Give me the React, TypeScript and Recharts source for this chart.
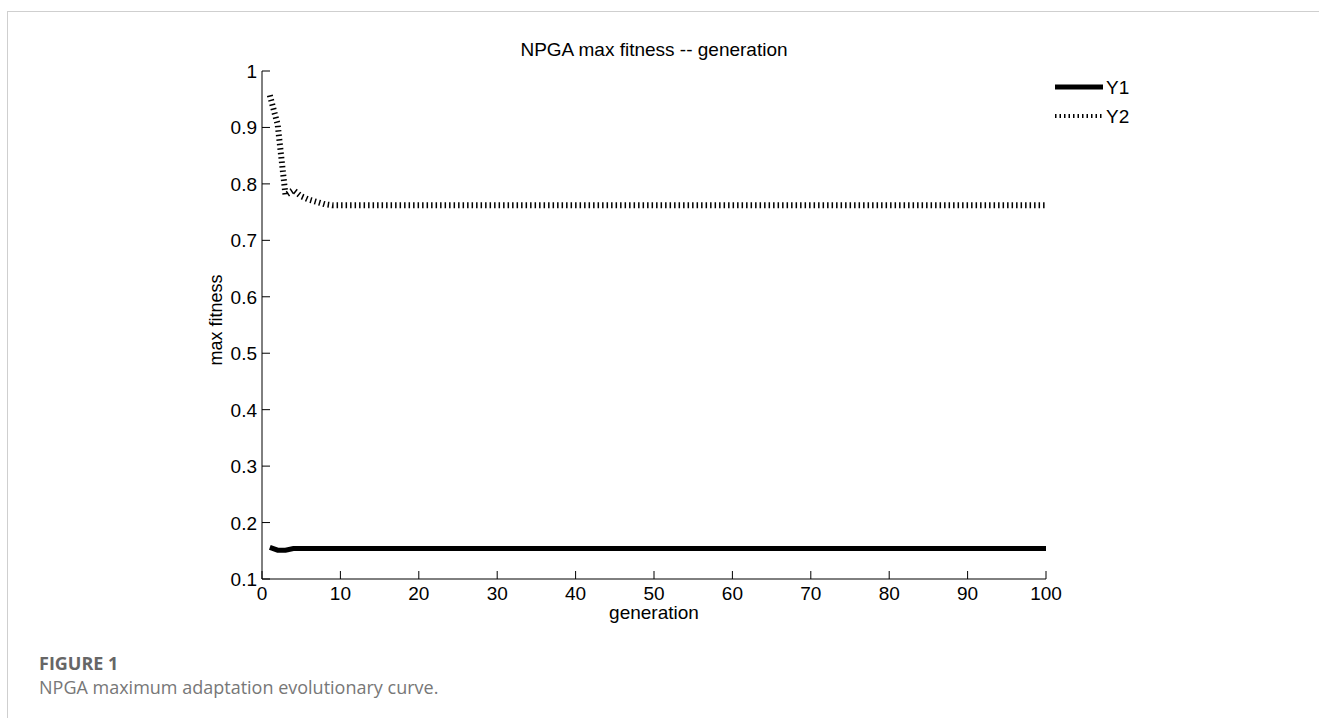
import { LineChart, Line, XAxis, YAxis } from "recharts"

// generation 1..100
const generations = [
  1, 2, 3, 4, 5, 6, 7, 8, 9, 10, 11, 12, 13, 14, 15, 16, 17, 18, 19, 20,
  21, 22, 23, 24, 25, 26, 27, 28, 29, 30, 31, 32, 33, 34, 35, 36, 37, 38, 39, 40,
  41, 42, 43, 44, 45, 46, 47, 48, 49, 50, 51, 52, 53, 54, 55, 56, 57, 58, 59, 60,
  61, 62, 63, 64, 65, 66, 67, 68, 69, 70, 71, 72, 73, 74, 75, 76, 77, 78, 79, 80,
  81, 82, 83, 84, 85, 86, 87, 88, 89, 90, 91, 92, 93, 94, 95, 96, 97, 98, 99, 100,
]

const y1Values = [
  0.156, 0.151, 0.151, 0.154, 0.154, 0.154, 0.154, 0.154, 0.154, 0.154,
  0.154, 0.154, 0.154, 0.154, 0.154, 0.154, 0.154, 0.154, 0.154, 0.154,
  0.154, 0.154, 0.154, 0.154, 0.154, 0.154, 0.154, 0.154, 0.154, 0.154,
  0.154, 0.154, 0.154, 0.154, 0.154, 0.154, 0.154, 0.154, 0.154, 0.154,
  0.154, 0.154, 0.154, 0.154, 0.154, 0.154, 0.154, 0.154, 0.154, 0.154,
  0.154, 0.154, 0.154, 0.154, 0.154, 0.154, 0.154, 0.154, 0.154, 0.154,
  0.154, 0.154, 0.154, 0.154, 0.154, 0.154, 0.154, 0.154, 0.154, 0.154,
  0.154, 0.154, 0.154, 0.154, 0.154, 0.154, 0.154, 0.154, 0.154, 0.154,
  0.154, 0.154, 0.154, 0.154, 0.154, 0.154, 0.154, 0.154, 0.154, 0.154,
  0.154, 0.154, 0.154, 0.154, 0.154, 0.154, 0.154, 0.154, 0.154, 0.154,
]

const y2Values = [
  0.957, 0.905, 0.780, 0.789, 0.778, 0.772, 0.768, 0.764, 0.762, 0.762,
  0.762, 0.762, 0.762, 0.762, 0.762, 0.762, 0.762, 0.762, 0.762, 0.762,
  0.762, 0.762, 0.762, 0.762, 0.762, 0.762, 0.762, 0.762, 0.762, 0.762,
  0.762, 0.762, 0.762, 0.762, 0.762, 0.762, 0.762, 0.762, 0.762, 0.762,
  0.762, 0.762, 0.762, 0.762, 0.762, 0.762, 0.762, 0.762, 0.762, 0.762,
  0.762, 0.762, 0.762, 0.762, 0.762, 0.762, 0.762, 0.762, 0.762, 0.762,
  0.762, 0.762, 0.762, 0.762, 0.762, 0.762, 0.762, 0.762, 0.762, 0.762,
  0.762, 0.762, 0.762, 0.762, 0.762, 0.762, 0.762, 0.762, 0.762, 0.762,
  0.762, 0.762, 0.762, 0.762, 0.762, 0.762, 0.762, 0.762, 0.762, 0.762,
  0.762, 0.762, 0.762, 0.762, 0.762, 0.762, 0.762, 0.762, 0.762, 0.762,
]

const xTicks = [0, 10, 20, 30, 40, 50, 60, 70, 80, 90, 100]
const yTicks = [0.1, 0.2, 0.3, 0.4, 0.5, 0.6, 0.7, 0.8, 0.9, 1]
const seriesNames = ["Y1", "Y2"]

const data = generations.map((g, i) => ({ generation: g, Y1: y1Values[i], Y2: y2Values[i] }))

const FONT = "'Liberation Sans', Arial, sans-serif"
const Y2_DASH = "1.5 3"

function XTick({ x, y, payload }: any) {
  return (
    <g>
      <line x1={x} y1={y} x2={x} y2={y - 8} stroke="#000" strokeWidth={1} />
      <text x={x} y={y + 21} textAnchor="middle" fontSize={19} fontFamily={FONT} fill="#000">
        {payload.value}
      </text>
    </g>
  )
}

function YTick({ x, y, payload }: any) {
  return (
    <g>
      <line x1={x} y1={y} x2={x + 8} y2={y} stroke="#000" strokeWidth={1} />
      <text x={x - 5} y={y + 7} textAnchor="end" fontSize={19} fontFamily={FONT} fill="#000">
        {payload.value}
      </text>
    </g>
  )
}

export default function App() {
  return (
    <div style={{ position: "absolute", left: 0, top: 0, width: 1319, height: 718, background: "#fff", overflow: "hidden" }}>
      {/* page frame */}
      <div style={{ position: "absolute", left: 7, top: 11, right: 0, height: 1, background: "#cfcfcf" }} />
      <div style={{ position: "absolute", left: 7, top: 11, bottom: 0, width: 1, background: "#cfcfcf" }} />

      <div style={{ position: "absolute", left: 0, top: 0 }}>
        <LineChart width={1319} height={718} data={data} margin={{ top: 71, right: 273, bottom: 109, left: 202 }}>
          <XAxis
            dataKey="generation"
            type="number"
            domain={[0, 100]}
            ticks={xTicks}
            tickSize={0}
            tickMargin={0}
            tickLine={false}
            tick={<XTick />}
            height={30}
            axisLine={{ stroke: "#000" }}
            interval={0}
          />
          <YAxis
            type="number"
            domain={[0.1, 1]}
            ticks={yTicks}
            tickSize={0}
            tickMargin={0}
            tickLine={false}
            tick={<YTick />}
            width={60}
            axisLine={{ stroke: "#000" }}
            interval={0}
            allowDataOverflow
          />
          <Line
            dataKey="Y1"
            type="linear"
            stroke="#000"
            strokeWidth={5}
            dot={false}
            isAnimationActive={false}
          />
          <Line
            dataKey="Y2"
            type="linear"
            stroke="#000"
            strokeWidth={6}
            strokeDasharray={Y2_DASH}
            dot={false}
            isAnimationActive={false}
          />
        </LineChart>
      </div>

      {/* title */}
      <div style={{ position: "absolute", left: 262, width: 784, top: 39, textAlign: "center", fontFamily: FONT, fontSize: 19, color: "#000" }}>
        NPGA max fitness -- generation
      </div>

      {/* axis labels */}
      <div style={{ position: "absolute", left: 262, width: 784, top: 602, textAlign: "center", fontFamily: FONT, fontSize: 19, color: "#000" }}>
        generation
      </div>
      <div
        style={{
          position: "absolute",
          left: 216,
          top: 320,
          transform: "translate(-50%, -50%) rotate(-90deg)",
          whiteSpace: "nowrap",
          fontFamily: FONT,
          fontSize: 18,
          color: "#000",
        }}
      >
        max fitness
      </div>

      {/* legend */}
      <svg style={{ position: "absolute", left: 1050, top: 72 }} width={90} height={60}>
        {seriesNames.map((name, i) => (
          <g key={name}>
            <line
              x1={5}
              x2={53}
              y1={15 + i * 29}
              y2={15 + i * 29}
              stroke="#000"
              strokeWidth={i === 0 ? 5 : 4}
              strokeDasharray={i === 0 ? undefined : Y2_DASH}
            />
            <text x={56} y={22 + i * 29} fontSize={19} fontFamily={FONT} fill="#000">
              {name}
            </text>
          </g>
        ))}
      </svg>

      {/* caption */}
      <div style={{ position: "absolute", left: 39, top: 651, fontFamily: "'Open Sans', sans-serif", fontSize: 18, fontWeight: 700, color: "#666" }}>
        FIGURE 1
      </div>
      <div style={{ position: "absolute", left: 39, top: 675, fontFamily: "'Open Sans', sans-serif", fontSize: 18, color: "#777" }}>
        NPGA maximum adaptation evolutionary curve.
      </div>
    </div>
  )
}
